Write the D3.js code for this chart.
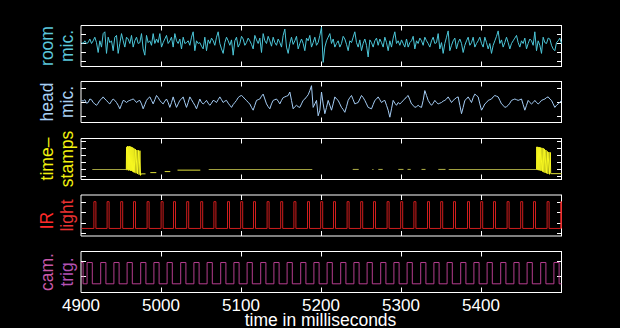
<!DOCTYPE html>
<html>
<head>
<meta charset="utf-8">
<script src="https://cdn.jsdelivr.net/npm/d3@7"></script>
<style>
  html, body { margin: 0; padding: 0; background: #000; }
  svg { display: block; }
  text { font-family: "Liberation Sans", Arial, Helvetica, sans-serif; }
</style>
</head>
<body>
<svg id="chart" width="620" height="328"></svg>
<script>
// ---- time axis ----
const timeDomain = [4900, 5500];
const timeTicks = [4900, 5000, 5100, 5200, 5300, 5400];

// ---- microphone traces, 480 samples per second starting at 4900 ms ----
const micRate = 480;
const micStart = 4900;

const roomMic = [
  1,0,3,0,1,5,0,3,7,1, -10,3,-4,11,13,-11,7,1,3,-8, 7,9,-11,0,11,3,-4,7,5,0,
  9,-4,3,7,0,1,11,-6,-13,9, 1,3,-2,11,0,5,1,11,-4,1, 5,9,0,3,7,-4,11,3,0,5,
  -6,7,0,1,3,-2,7,13,-8,3, 0,1,
  -3,-6,7,-8,4,0,6,3,-2,7, 13,0,-6,-11,1,7,3,-2,4,-13, 3,7,-4,0,8,5,-2,1,6,3,
  -1,-6,9,4,0,6,-10,11,3,0, 8,3,-3,7,1,-2,5,1,-4,9, 16,-4,-11,0,7,-1,3,8,-6,0,
  5,0,-8,6,3,9,-4,1,7,-2, 1,9,18,-21,-4,3,7,11,0,5, -4,0,3,-4,0,8,5,-1,-8,3,
  1,7,13,1,-4,4,-8,0,5,-2, -15,4,1,-4,3,6,-2,5,1,-4, 7,1,-8,3,-4,6,13,0,3,
  -2,4,0,-4,5,-4,1,3,8,-6, 3,0,6,3,-2,7,3,0,-4,3, 7,0,1,11,-6,1,-11,0,7,14,
  -8,-2,3,6,-6,1,5,0,-10,-2, 3,7,-2,1,7,-4,0,3,7,0, -4,7,1,-6,0,-11,-2,3,8,14,
  0,4,-4,1,7,1,-6,0,3,6, 9,1,-4,3,0,6,-6,0,5,3, -2,13,-8,3,-2,-11,7,1,0,6,
  5,-2,-6,-8,1,3,6,0
];

const headMic = [
  3,2,4,-1,0,5,4,0,-2,-4, -1,3,5,8,5,3,0,-2,2,5, 3,0,-4,-9,-3,3,2,0,2,3,
  4,5,3,0,2,3,-2,-9,-3,3, 6,8,3,-2,4,10,7,3,0,-2, 2,5,0,-7,0,8,0,-7,-2,3,
  5,8,0,-7,0,8,4,0,-4,-9, -2,5,
  0,-2,0,3,-1,-4,-1,3,2,0, 4,8,4,0,2,3,-1,-4,-7,-3, 0,3,7,9,10,8,5,3,0,-2,
  -7,-11,-4,3,4,5,9,12,5,-2, -6,-9,-2,3,4,5,2,-2,3,7, 8,9,10,15,3,-9,-6,-4,-6,-7,
  -2,3,5,8,11,17,24,-7,-2,3, -19,-11,15,-2,-16,-7,3,-4,-11,-2, 8,5,3,-2,-7,-10,-14,-6,3,7,
  10,4,-2,-1,0,5,10,7,3,-2, -7,-8,-9,-3,3,5,8,4,0,2, 3,-4,-11,-21,-9,3,-1,-4,0,
  -2,0,3,5,8,10,4,-2,-4,-7, -6,-4,-6,-7,3,17,10,3,-1,-4, -1,3,0,-2,-1,0,2,3,5,8,
  4,0,3,5,7,8,-4,-16,-7,3, 5,8,4,0,7,12,10,8,-2,-11, -7,-2,0,3,4,5,8,10,9,8,
  3,-2,-4,-7,-6,-4,-1,3,4,5, 4,3,4,5,-3,-11,-4,3,0,-2, 0,3,0,-2,0,3,4,5,7,8,
  5,3,-2,-7,-4,-2,0,3
];

// ---- time-stamp channel ----
// idle level runs [start ms, end ms]
const stampIdle = [
  [4913.5, 4956.3], [5059, 5188.5], [5239, 5246.5], [5263.5, 5265], [5271, 5276.5],
  [5296, 5302.5], [5307.5, 5311.5], [5325, 5330], [5346, 5355], [5359, 5469]
];
const stampIdleLevel = 1;
// settling runs after each burst [start ms, end ms, level]
const stampSettle = [
  [4974.6, 4980, 0.37], [4986, 4993.5, 0.55], [5004, 5011, 0.7], [5020, 5048.5, 0.9],
  [5486.5, 5500, 0.4]
];
// bursts [ms, level]
const stampBurst1 = [
  [4956.0, 1.0], [4956.3, 4.2], [4956.9, 0.9], [4957.4, 4.35], [4958.0, 1.0], [4958.5, 4.3],
  [4959.1, 0.85], [4959.7, 4.35], [4960.3, 0.9], [4960.9, 4.3], [4961.5, 0.8], [4962.1, 4.25],
  [4962.7, 0.8], [4963.3, 4.2], [4963.9, 0.7], [4964.5, 4.1], [4965.1, 0.6], [4965.8, 4.0],
  [4966.5, 0.55], [4967.5, 3.9], [4968.2, 0.45], [4969.3, 3.8], [4970.0, 0.35], [4971.2, 3.75],
  [4972.0, 0.25], [4973.0, 3.7], [4973.8, 0.15], [4974.6, 0.37]
];
const stampBurst2 = [
  [5468.8, 1.0], [5469.1, 4.25], [5469.7, 0.95], [5470.3, 4.25], [5470.9, 0.9], [5471.5, 4.2],
  [5472.1, 0.9], [5472.7, 4.2], [5473.3, 0.85], [5474.0, 4.15], [5474.6, 0.8], [5475.6, 4.1],
  [5476.3, 0.7], [5477.2, 4.05], [5477.9, 0.6], [5478.8, 3.95], [5479.5, 0.5], [5480.5, 3.8],
  [5481.2, 0.45], [5482.3, 3.6], [5483.0, 0.35], [5484.2, 3.5], [5485.0, 0.3], [5486.0, 3.45],
  [5486.5, 0.4]
];

// ---- IR light pulses (ms) ----
const irRise = [4915.5, 4932, 4949, 4965, 4982, 4999.5, 5015, 5031.5, 5049, 5065.5, 5082.5, 5099,
  5115, 5132, 5149, 5165.5, 5182.5, 5199, 5215, 5232, 5249, 5265, 5282, 5299,
  5315.5, 5332.5, 5349, 5365, 5382.5, 5399, 5415, 5432, 5449, 5465, 5482, 5499];
const irFall = [4918, 4934.5, 4951.5, 4967.5, 4984.5, 5002, 5017.5, 5034, 5051.5, 5068, 5085, 5101.5,
  5117.5, 5134.5, 5151.5, 5168, 5185, 5201.5, 5217.5, 5234.5, 5251.5, 5267.5, 5284.5, 5301.5,
  5318, 5335, 5351.5, 5367.5, 5385, 5401.5, 5417.5, 5434.5, 5451.5, 5467.5, 5484.5, 5500];
const irLevels = [0.5, 3.05];

// ---- camera trigger pulses (ms) ----
const camRise = [4899, 4907, 4924, 4940.5, 4957, 4974, 4990.5, 5007, 5024, 5040.5, 5057, 5074, 5090.5,
  5107, 5124, 5140.5, 5157, 5174, 5190.5, 5207, 5224, 5240.5, 5257, 5274, 5290.5,
  5307, 5324, 5340.5, 5357, 5374, 5390.5, 5407, 5424, 5440.5, 5457, 5474, 5490.5];
const camFall = [4902, 4913.5, 4930.5, 4947, 4963.5, 4980.5, 4997, 5013.5, 5030.5, 5047, 5063.5, 5080.5, 5097,
  5113.5, 5130.5, 5147, 5163.5, 5180.5, 5197, 5213.5, 5230.5, 5247, 5263.5, 5280.5, 5297,
  5313.5, 5330.5, 5347, 5363.5, 5380.5, 5397, 5413.5, 5430.5, 5447, 5463.5, 5480.5, 5497];
const camLevels = [0.5, 1.9];

// ---- channel labels and value axes ----
const labels = [["room", "mic."], ["head", "mic."], ["time\u2013", "stamps"], ["IR", "light"], ["cam.", "trig."]];
const labelColors = [["#5cc8dc", "#5cc8dc"], ["#a8d0f4", "#a8d0f4"], ["#f2f20e", "#f2f20e"],
  ["#ff2a2a", "#e83232"], ["#c858a8", "#b452b4"]];
const valueDomains = [[-25.56, 20], [-28.57, 30], [-0.446, 5.453], [-0.219, 3.686], [-0.072, 2.625]];
const valueTicks = [[-20, -10, 0, 10], [-20, 0, 20], [0, 1, 2, 3, 4, 5], [0, 1, 2, 3], [1, 2]];

// ---- layout ----
const W = 620, H = 328;
const left = 81, right = 561;
const panelTops = [25, 81, 138, 194.5, 251];
const panelH = 41;
// vertical nudge of each label line from the panel centre (px)
const labelShift = [[0, 0], [0, 0], [0, 0], [5, 0], [0, 0]];

const svg = d3.select("#chart");
svg.append("rect").attr("width", W).attr("height", H).attr("fill", "#000");

const x = d3.scaleLinear().domain(timeDomain).range([left + 0.5, right + 0.5]);

const ys = panelTops.map((top, i) =>
  d3.scaleLinear().domain(valueDomains[i]).range([top + panelH + 0.5, top + 0.5]));

const defs = svg.append("defs");
panelTops.forEach((top, i) => {
  defs.append("clipPath").attr("id", "clip" + i)
    .append("rect").attr("x", left).attr("y", top).attr("width", right - left + 1).attr("height", panelH + 1);
});

// frames and ticks
panelTops.forEach((top, i) => {
  const g = svg.append("g").attr("class", "frame");
  const yTop = top + 0.5, yBot = top + panelH + 0.5;
  g.append("line").attr("x1", left).attr("x2", right + 1).attr("y1", yTop).attr("y2", yTop)
    .attr("stroke", "#fff");
  g.append("line").attr("x1", left).attr("x2", right + 1).attr("y1", yBot).attr("y2", yBot)
    .attr("stroke", "#fff");
  g.append("line").attr("x1", right + 0.5).attr("x2", right + 0.5).attr("y1", yTop).attr("y2", yBot)
    .attr("stroke", "#fff");
  g.append("line").attr("x1", left).attr("x2", left).attr("y1", yTop).attr("y2", yBot)
    .attr("stroke", "#fff");
  // time ticks, inward on top and bottom edges
  timeTicks.filter(t => t > timeDomain[0]).forEach(t => {
    const xx = Math.round(x(t) - 0.5) + 0.5;
    g.append("line").attr("x1", xx).attr("x2", xx).attr("y1", yTop).attr("y2", yTop + 5).attr("stroke", "#fff");
    g.append("line").attr("x1", xx).attr("x2", xx).attr("y1", yBot).attr("y2", yBot - 5).attr("stroke", "#fff");
  });
  // value ticks, inward on both sides
  valueTicks[i].forEach(v => {
    const yy = Math.round(ys[i](v) - 0.5) + 0.5;
    g.append("line").attr("x1", left).attr("x2", left + 5).attr("y1", yy).attr("y2", yy).attr("stroke", "#fff");
    g.append("line").attr("x1", right + 1).attr("x2", right - 4).attr("y1", yy).attr("y2", yy).attr("stroke", "#fff");
  });
});

// data layers
function plot(i) {
  return svg.append("g").attr("clip-path", "url(#clip" + i + ")");
}

const micT = i => micStart + i * 1000 / micRate;

plot(0).append("path")
  .attr("d", d3.line().x((d, k) => x(micT(k))).y(d => ys[0](d))(roomMic))
  .attr("fill", "none").attr("stroke", "#4cc6d8").attr("stroke-width", 1);

plot(1).append("path")
  .attr("d", d3.line().x((d, k) => x(micT(k))).y(d => ys[1](d))(headMic))
  .attr("fill", "none").attr("stroke", "#a4ccf4").attr("stroke-width", 1);

// time-stamp runs are drawn as explicit line elements so that each run renders on its own
const gStamp = plot(2);
stampIdle.forEach(s => {
  gStamp.append("line")
    .attr("x1", x(s[0])).attr("x2", x(s[1]))
    .attr("y1", ys[2](stampIdleLevel)).attr("y2", ys[2](stampIdleLevel))
    .attr("stroke", "#a0a040").attr("stroke-width", 1.1);
});
stampSettle.forEach(s => {
  gStamp.append("line")
    .attr("x1", x(s[0])).attr("x2", x(s[1]))
    .attr("y1", ys[2](s[2])).attr("y2", ys[2](s[2]))
    .attr("stroke", "#cccc34").attr("stroke-width", 1.1);
});
const pairLine = d3.line().x(d => x(d[0])).y(d => ys[2](d[1]));
[stampBurst1, stampBurst2].forEach(b => {
  gStamp.append("path").attr("d", pairLine(b))
    .attr("fill", "none").attr("stroke", "#f8f820").attr("stroke-width", 1);
});

function stepPoints(rises, falls, levels) {
  const [lo, hi] = levels;
  const pts = [[timeDomain[0], lo]];
  rises.forEach((r, k) => {
    pts.push([r, lo], [r, hi], [falls[k], hi], [falls[k], lo]);
  });
  pts.push([timeDomain[1], lo]);
  return pts;
}

plot(3).append("path")
  .attr("d", d3.line().x(d => x(d[0])).y(d => ys[3](d[1]))(stepPoints(irRise, irFall, irLevels)))
  .attr("fill", "none").attr("stroke", "#e82020").attr("stroke-width", 0.9);

plot(4).append("path")
  .attr("d", d3.line().x(d => x(d[0])).y(d => ys[4](d[1]))(stepPoints(camRise, camFall, camLevels)))
  .attr("fill", "none").attr("stroke", "#c8449e").attr("stroke-width", 0.9);

// channel labels, rotated
panelTops.forEach((top, i) => {
  const cy = top + panelH / 2 + 0.5;
  [53, 73].forEach((bx, j) => {
    svg.append("text")
      .attr("transform", `translate(${bx},${cy + labelShift[i][j]}) rotate(-90)`)
      .attr("text-anchor", "middle")
      .attr("font-size", 17.5)
      .attr("fill", labelColors[i][j])
      .text(labels[i][j]);
  });
});

// time tick labels and title
timeTicks.forEach(t => {
  svg.append("text").attr("x", x(t) - 0.5).attr("y", 310.5)
    .attr("text-anchor", "middle").attr("font-size", 17).attr("fill", "#fff")
    .text(t);
});
svg.append("text").attr("x", 320.5).attr("y", 325.5)
  .attr("text-anchor", "middle").attr("font-size", 17.5).attr("fill", "#fff")
  .text("time in milliseconds");
</script>
</body>
</html>
